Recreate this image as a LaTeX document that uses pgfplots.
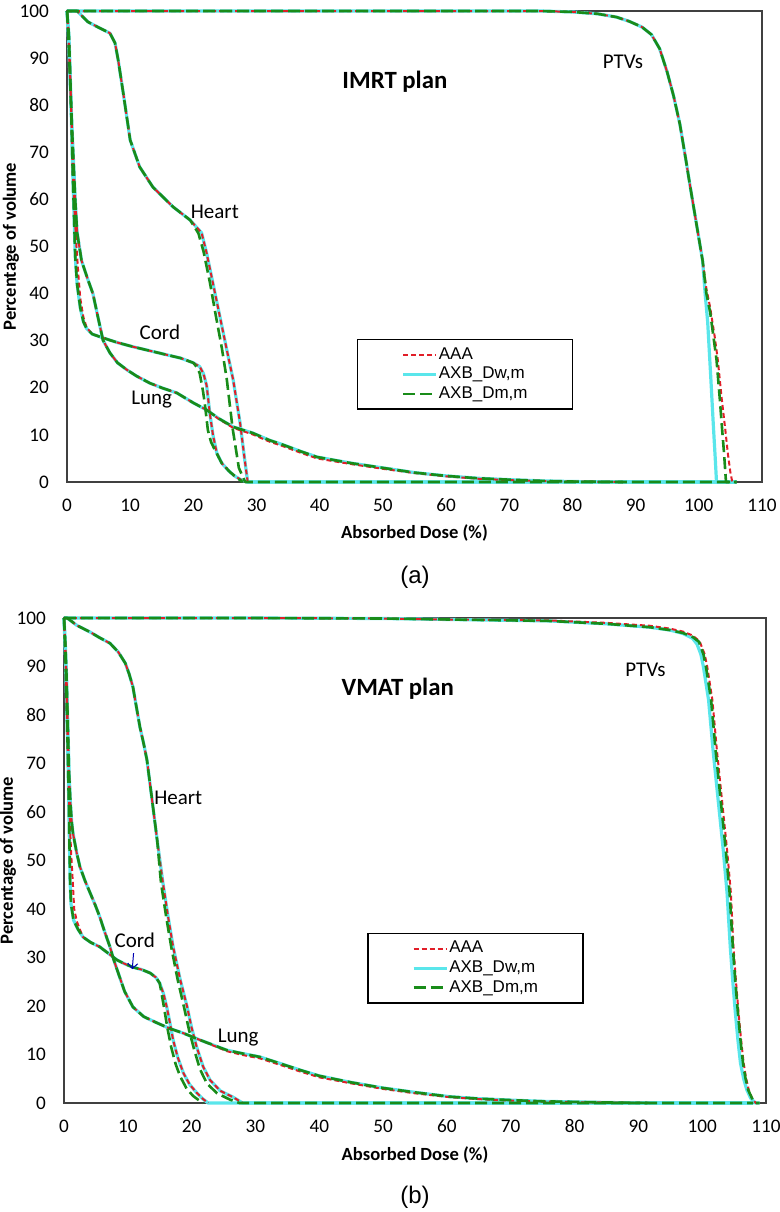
\documentclass[border=0pt]{standalone}
\usepackage{fontspec}
\setmainfont{Carlito}
\newfontfamily\legfont{Liberation Sans}
\usepackage{pgfplots}
\pgfplotsset{compat=1.18}
\usetikzlibrary{arrows.meta}

\definecolor{aaared}{RGB}{225,30,40}
\definecolor{dwcyan}{RGB}{90,230,235}
\definecolor{dmgreen}{RGB}{25,140,25}

\tikzset{
  aaa/.style={draw=aaared, line width=1pt, dash pattern=on 2.5pt off 1.5pt},
  dw/.style={draw=dwcyan, line width=1.6pt},
  dm/.style={draw=dmgreen, line width=1.3pt, dash pattern=on 6pt off 2.5pt},
  lbl/.style={font=\fontsize{10.5}{12}\selectfont},
  ttl/.style={font=\bfseries\fontsize{12.4}{14}\selectfont},
}

\pgfplotsset{
  dvh/.style={
    scale only axis, anchor=south west,
    xmin=0, xmax=110, ymin=0, ymax=100,
    xtick={0,10,...,110}, ytick={0,10,...,100},
    major tick length=0pt,
    axis line style={draw=black!75, line width=0.7pt},
    clip=false, no markers,
    every axis plot/.append style={line join=round},
    /pgf/number format/assume math mode=true,
    tick label style={font=\fontsize{9.6}{11}\selectfont},
    xticklabel style={anchor=center, yshift=-11.5pt},
    yticklabel style={anchor=east, xshift=-5.5pt},
    xlabel={\textbf{Absorbed Dose (\%)}},
    ylabel={\textbf{Percentage of volume}},
    label style={font=\fontsize{9.3}{11}\selectfont},
    legend image code/.code={\draw[#1] (0pt,0pt) -- (16.5pt,0pt);},
    legend style={draw=black, line width=0.8pt,
      font=\legfont\fontsize{8.5}{10}\selectfont,
      anchor=north west, inner xsep=22pt, inner ysep=3pt, row sep=0.8pt,
      nodes={inner xsep=0.5pt, inner ysep=0.5pt, text height=6.2pt, text depth=1.8pt}},
    legend cell align=left,
  }
}

\begin{document}
\begin{tikzpicture}
% ---------------- (a) IMRT ----------------
\begin{axis}[dvh,
  at={(33.5pt,-241pt)}, width=347.5pt, height=235.5pt,
  xlabel style={at={(axis description cs:0.5,0)}, anchor=center, yshift=-25.5pt},
  ylabel style={at={(axis description cs:-0.0806,0.5)}, anchor=center},
  legend style={at={(rel axis cs:0.417,0.304)}},
]
\addlegendimage{aaa}\addlegendentry{AAA}
\addlegendimage{dw}\addlegendentry{AXB\_Dw,m}
\addlegendimage{dm}\addlegendentry{AXB\_Dm,m}

% AXB_Dw,m
\addplot[dw, forget plot] coordinates {(0,100) (40,100) (75,100) (80,99.8) (84,99.4) (87,98.7) (89,97.8) (91,96.6) (92.5,95) (93.8,92) (95,87) (96,82) (97,76) (98,68) (98.6,63) (99.6,55) (100.6,47) (101.0,40) (101.4,34) (101.9,22) (102.3,12) (102.6,5) (102.8,0) (106,0)};
\addplot[dw, forget plot] coordinates {(0,100) (1.6,100) (3.3,97.7) (5,96.5) (6.8,95.3) (7.6,93.2) (8.1,89.6) (8.9,82.6) (10,72.6) (11.5,66.9) (13.6,62.6) (16.8,58.4) (19.5,55.6) (21.3,52.9) (22.1,48.6) (23.1,42.2) (24.2,35.1) (25.3,28) (26.3,21.7) (27.4,12.5) (28.1,5) (28.6,0) (106,0)};
\addplot[dw, forget plot] coordinates {(0,100) (0.3,95) (0.5,87) (0.7,77) (0.9,66) (1.1,57) (1.3,48) (1.6,42) (2.1,37) (2.6,34) (3.1,32.6) (4,31.4) (5.7,30.6) (8,29.6) (10.5,28.7) (13,27.9) (15.8,27) (18,26.3) (20,25.3) (21,24.5) (21.6,23) (22.1,20.5) (22.4,17) (22.6,14.6) (23.1,10) (23.7,6.2) (24.5,4) (25.5,2.5) (26.5,1.3) (27.5,0.5) (28.5,0) (106,0)};
\addplot[dw, forget plot] coordinates {(0,100) (0.2,95) (0.5,85) (0.8,75) (1.1,66) (1.3,60) (1.6,53) (2.3,47) (3.3,43) (4.1,40) (4.9,35) (5.7,30.1) (6.8,27.4) (8,25.3) (9.5,23.8) (11,22.5) (13.1,21) (15,20) (17.4,18.9) (20,16.8) (22.1,15.3) (24,13.5) (26.3,11.7) (29.4,10.4) (32,8.9) (34.2,7.9) (37,6.5) (39.6,5.3) (45,4) (50,3) (55,2) (60,1.3) (65,0.8) (70,0.5) (75,0.25) (80,0.1) (88,0) (106,0)};
% AAA
\addplot[aaa, forget plot] coordinates {(0,100) (40,100) (75,100) (80,99.8) (84,99.4) (87,98.7) (89,97.8) (91,96.6) (92.5,95) (93.8,92) (95,87) (96,82) (97,76) (98,68) (98.6,63) (99.6,55) (100.6,47) (101.2,41) (101.8,37) (102.5,31) (103.0,26) (103.6,18) (104.2,11) (104.6,6) (105,2) (105.3,0) (106,0)};
\addplot[aaa, forget plot] coordinates {(0,100) (1.6,100) (3.3,97.7) (5,96.5) (6.8,95.3) (7.6,93.2) (8.1,89.6) (8.9,82.6) (10,72.6) (11.5,66.9) (13.6,62.6) (16.8,58.4) (19.5,55.6) (21.3,52.9) (22.1,48.6) (23.1,42.2) (24.2,35.1) (25.3,28) (26.3,21.7) (27.4,12.5) (28.1,5) (28.6,0)};
\addplot[aaa, forget plot] coordinates {(0,100) (0.3,95) (0.5,87) (0.7,77) (0.9,66) (1.2,57) (1.5,50) (1.8,44) (2.1,39) (2.6,35) (3.1,32.8) (4,31.4) (5.7,30.6) (8,29.6) (10.5,28.7) (13,27.9) (15.8,27) (18,26.3) (20,25.3) (21,24.5) (21.6,23) (22.1,20.5) (22.4,17) (22.6,14.6) (23.1,10) (23.7,6.2) (24.5,4) (25.5,2.5) (26.5,1.3) (27.5,0.5) (28.5,0)};
\addplot[aaa, forget plot] coordinates {(0,100) (0.2,95) (0.5,85) (0.8,75) (1.1,66) (1.3,60) (1.6,53) (2.3,47) (3.3,43) (4.1,40) (4.9,35) (5.7,30.1) (6.8,27.4) (8,25.3) (9.5,23.8) (11,22.5) (13.1,21) (15,20) (17.4,18.9) (20,16.8) (22.1,15.3) (24,13.4) (26.3,11.5) (29.4,10.1) (32,8.6) (34.2,7.6) (37,6.2) (39.6,5.0) (45,3.8) (50,2.8) (55,1.9) (60,1.2) (65,0.7) (70,0.4) (75,0.2) (80,0.1) (88,0)};
% AXB_Dm,m
\addplot[dm, forget plot] coordinates {(0,100) (40,100) (75,100) (80,99.8) (84,99.4) (87,98.7) (89,97.8) (91,96.6) (92.5,95) (93.8,92) (95,87) (96,82) (97,76) (98,68) (98.6,63) (99.6,55) (100.6,47) (101.2,40) (101.8,36) (102.3,31) (102.8,26) (103.3,18) (103.7,11) (104,6) (104.2,2) (104.3,0) (106,0)};
\addplot[dm, forget plot] coordinates {(0,100) (1.6,100) (3.3,97.7) (5,96.5) (6.8,95.3) (7.6,93.2) (8.1,89.6) (8.9,82.6) (10,72.6) (11.5,66.9) (13.6,62.6) (16.8,58.4) (19.5,55.6) (20.8,52.8) (21.6,49) (22.6,42.5) (23.6,35) (24.5,28.5) (25.3,21.7) (26.2,11.5) (27.2,3) (28.2,0) (106,0)};
\addplot[dm, forget plot] coordinates {(0,100) (0.3,95) (0.5,87) (0.7,77) (0.9,66) (1.1,57) (1.3,48) (1.6,42) (2.1,37) (2.6,34) (3.1,32.6) (4,31.4) (5.7,30.6) (8,29.6) (10.5,28.7) (13,27.9) (15.8,27) (18,26.3) (20,25.3) (20.6,24.3) (21,23.1) (21.5,19.5) (21.8,16.8) (22.3,11) (22.8,8.5) (23.4,6.8) (24.5,4) (25.8,2.1) (27,0.8) (27.8,0)};
\addplot[dm, forget plot] coordinates {(0,100) (0.2,95) (0.5,85) (0.8,75) (1.1,66) (1.3,60) (1.6,53) (2.3,47) (3.3,43) (4.1,40) (4.9,35) (5.7,30.1) (6.8,27.4) (8,25.3) (9.5,23.8) (11,22.5) (13.1,21) (15,20) (17.4,18.9) (20,16.8) (22.1,15.3) (24,13.5) (26.3,11.7) (29.4,10.4) (32,8.9) (34.2,7.9) (37,6.5) (39.6,5.3) (45,4) (50,3) (55,2) (60,1.3) (65,0.8) (70,0.5) (75,0.25) (80,0.1) (88,0)};

\node[ttl] at (axis cs:51.9,84.9) {IMRT plan};
\node[lbl] at (axis cs:23.4,57.3) {Heart};
\node[lbl] at (axis cs:14.7,31.8) {Cord};
\node[lbl] at (axis cs:13.4,17.4) {Lung};
\node[lbl] at (axis cs:88,89.2) {PTVs};
\end{axis}

% ---------------- (b) VMAT ----------------
\begin{axis}[dvh,
  at={(32pt,-551.5pt)}, width=351pt, height=242.5pt,
  xlabel style={at={(axis description cs:0.5,0)}, anchor=center, yshift=-26pt},
  ylabel style={at={(axis description cs:-0.0798,0.5)}, anchor=center},
  legend style={at={(rel axis cs:0.432,0.351)}},
]
\addlegendimage{aaa}\addlegendentry{AAA}
\addlegendimage{dw}\addlegendentry{AXB\_Dw,m}
\addlegendimage{dm}\addlegendentry{AXB\_Dm,m}

% AXB_Dw,m
\addplot[dw, forget plot] coordinates {(0,100) (30,100) (50,99.9) (60,99.7) (76,99.4) (85,98.8) (91.8,98.1) (95,97.5) (97,96.8) (98.5,95.8) (99.2,94.6) (99.8,92.5) (100.2,89.9) (100.6,86.5) (101,83.1) (101.7,72.8) (102.5,62.5) (103.3,52.2) (103.9,43.3) (104.4,32.2) (104.8,25) (105.2,18.6) (105.6,13) (106,8.2) (106.5,5) (107,2.7) (107.6,1) (108.3,0) (109,0)};
\addplot[dw, forget plot] coordinates {(0,100) (0.5,100) (2,98.5) (4.1,97.1) (5.5,96) (7.2,94.8) (8.5,93) (9.6,90.7) (10.2,88.5) (10.8,85.8) (11.3,82) (11.9,77.5) (12.5,74) (13.0,70.7) (13.8,62.5) (14.6,54.2) (15.5,45.4) (16.3,38.5) (17.1,32.2) (18.2,25.5) (19.3,19.8) (20.0,15.5) (20.8,11.5) (21.8,7.5) (22.9,4.7) (24.5,2.5) (26.5,1.2) (28,0) (108,0)};
\addplot[dw, forget plot] coordinates {(0,100) (0.2,93) (0.4,83) (0.6,72) (0.75,62) (0.85,54) (0.95,46) (1.1,41) (1.5,37.7) (2.2,35.8) (3.0,34.2) (4.2,33.1) (5.6,32.2) (7,30.8) (8.3,29.5) (9.5,28.7) (10.8,28) (12.2,27.5) (13.5,26.8) (14.4,25.9) (15,24.7) (15.6,22.5) (16.1,19.8) (16.6,16.5) (17.1,13) (17.8,9.5) (18.7,6.2) (19.7,3.8) (20.8,2.1) (21.8,0.8) (22.6,0) (108,0)};
\addplot[dw, forget plot] coordinates {(0,100) (0.2,95) (0.4,88) (0.6,78) (0.8,68) (1.0,62) (1.2,58) (1.4,55.7) (2.0,51.5) (2.5,48.7) (3.3,45.8) (4.1,43.3) (4.9,40.8) (5.6,38.4) (6.4,35.2) (7.2,32.2) (7.8,29.5) (8.5,26.8) (9.5,23) (10.8,19.8) (12.5,17.8) (14.6,16.5) (16.5,15.4) (18.7,14.4) (21.3,13) (23.5,11.9) (25.5,10.9) (28,10.2) (30.7,9.5) (34,8.1) (37,6.8) (40,5.6) (44.8,4.3) (50,3.1) (55,2.2) (60.5,1.3) (65,0.9) (70,0.6) (75,0.35) (81.3,0.2) (88,0.05) (92,0) (108,0)};
% AAA
\addplot[aaa, forget plot] coordinates {(0,100) (30,100) (50,99.9) (60,99.7) (76,99.5) (85,99) (91.8,98.4) (95,97.8) (97,97.2) (98.5,96.4) (99.6,95.2) (100.4,92.5) (100.8,89.9) (101.2,86.5) (101.6,83.1) (102.3,72.8) (103.1,62.5) (103.9,52.2) (104.5,43.3) (104.9,32.2) (105.3,25) (105.7,18.6) (106.1,13) (106.5,8.2) (106.9,5) (107.3,2.7) (107.8,1) (108.4,0) (109,0)};
\addplot[aaa, forget plot] coordinates {(0,100) (0.5,100) (2,98.5) (4.1,97.1) (5.5,96) (7.2,94.8) (8.5,93) (9.6,90.7) (10.2,88.5) (10.8,85.8) (11.3,82) (11.9,77.5) (12.5,74) (13.0,70.7) (13.8,62.5) (14.6,54.2) (15.5,45.4) (16.3,38.5) (17.1,32.2) (18.2,25.5) (19.3,19.8) (20.0,15.5) (20.8,11.5) (21.8,7.5) (22.9,4.7) (24.5,2.5) (26.5,1.2) (28,0)};
\addplot[aaa, forget plot] coordinates {(0,100) (0.2,93) (0.4,83) (0.6,72) (0.8,62) (1.1,52) (1.4,45) (1.6,40) (2.0,37.5) (2.6,35.4) (3.0,34.2) (4.2,33.1) (5.6,32.2) (7,30.8) (8.3,29.5) (9.5,28.7) (10.8,28) (12.2,27.5) (13.5,26.8) (14.4,25.9) (15,24.7) (15.6,22.5) (16.1,19.8) (16.6,16.5) (17.1,13) (17.8,9.5) (18.7,6.2) (19.7,3.8) (20.8,2.1) (21.8,0.8) (22.6,0)};
\addplot[aaa, forget plot] coordinates {(0,100) (0.2,95) (0.4,88) (0.6,78) (0.8,68) (1.0,62) (1.2,58) (1.4,55.7) (2.0,51.5) (2.5,48.7) (3.3,45.8) (4.1,43.3) (4.9,40.8) (5.6,38.4) (6.4,35.2) (7.2,32.2) (7.8,29.5) (8.5,26.8) (9.5,23) (10.8,19.8) (12.5,17.8) (14.6,16.5) (16.5,15.4) (18.7,14.4) (21.3,13) (23.5,11.8) (25.5,10.7) (28,9.9) (30.7,9.2) (34,7.8) (37,6.5) (40,5.3) (44.8,4.1) (50,2.9) (55,2.0) (60.5,1.2) (65,0.8) (70,0.5) (75,0.3) (81.3,0.15) (88,0.05) (92,0)};
% AXB_Dm,m
\addplot[dm, forget plot] coordinates {(0,100) (30,100) (50,99.9) (60,99.7) (76,99.4) (85,98.8) (91.8,98.1) (95,97.5) (97,96.9) (98.5,96.1) (99.5,95.1) (100.2,92.5) (100.6,89.9) (101.0,86.5) (101.4,83.1) (102.1,72.8) (102.9,62.5) (103.7,52.2) (104.3,43.3) (104.8,32.2) (105.2,25) (105.6,18.6) (106,13) (106.4,8.2) (106.8,5) (107.2,2.7) (107.8,1) (108.4,0) (109,0)};
\addplot[dm, forget plot] coordinates {(0,100) (0.5,100) (2,98.5) (4.1,97.1) (5.5,96) (7.2,94.8) (8.5,93) (9.6,90.7) (10.2,88.5) (10.8,85.8) (11.3,82) (11.9,77.5) (12.5,74) (13.0,70.7) (13.8,62.5) (14.6,54.2) (15.2,45.4) (16.0,38.5) (16.8,32.2) (17.8,25.5) (18.8,19.8) (19.6,15) (20.4,11) (21.3,7) (22.4,4) (24,2) (26,0.7) (27.5,0) (108,0)};
\addplot[dm, forget plot] coordinates {(0,100) (0.2,93) (0.4,83) (0.6,72) (0.75,62) (0.85,54) (0.95,46) (1.1,41) (1.5,37.7) (2.2,35.8) (3.0,34.2) (4.2,33.1) (5.6,32.2) (7,30.8) (8.3,29.5) (9.5,28.7) (10.8,28) (12.2,27.5) (13.5,26.8) (14.4,25.9) (15,24.7) (15.3,22.5) (15.7,19.5) (16.2,15.5) (16.8,11.5) (17.5,8) (18.2,5.5) (19.2,3) (20.2,1.5) (21.2,0.5) (21.8,0)};
\addplot[dm, forget plot] coordinates {(0,100) (0.2,95) (0.4,88) (0.6,78) (0.8,68) (1.0,62) (1.2,58) (1.4,55.7) (2.0,51.5) (2.5,48.7) (3.3,45.8) (4.1,43.3) (4.9,40.8) (5.6,38.4) (6.4,35.2) (7.2,32.2) (7.8,29.5) (8.5,26.8) (9.5,23) (10.8,19.8) (12.5,17.8) (14.6,16.5) (16.5,15.4) (18.7,14.4) (21.3,13) (23.5,11.9) (25.5,10.9) (28,10.2) (30.7,9.5) (34,8.1) (37,6.8) (40,5.6) (44.8,4.3) (50,3.1) (55,2.2) (60.5,1.3) (65,0.9) (70,0.6) (75,0.35) (81.3,0.2) (88,0.05) (92,0)};

\node[ttl] at (axis cs:52.3,85.5) {VMAT plan};
\node[lbl] at (axis cs:17.9,62.9) {Heart};
\node[lbl] at (axis cs:11.1,33.6) {Cord};
\node[lbl] at (axis cs:27.3,13.4) {Lung};
\node[lbl] at (axis cs:91.1,89.3) {PTVs};
\draw[-{Straight Barb[length=2.5pt]}, draw=blue!70!black, line width=0.5pt] (axis cs:10.9,30.9) -- (axis cs:10.7,27.6);
\end{axis}

\node[font=\legfont\fontsize{12}{14}\selectfont] at (207.5pt,-288.5pt) {(a)};
\node[font=\legfont\fontsize{12}{14}\selectfont] at (207.5pt,-598.5pt) {(b)};

\pgfresetboundingbox
\path (0pt,0pt) rectangle (390pt,-606pt);
\end{tikzpicture}
\end{document}
